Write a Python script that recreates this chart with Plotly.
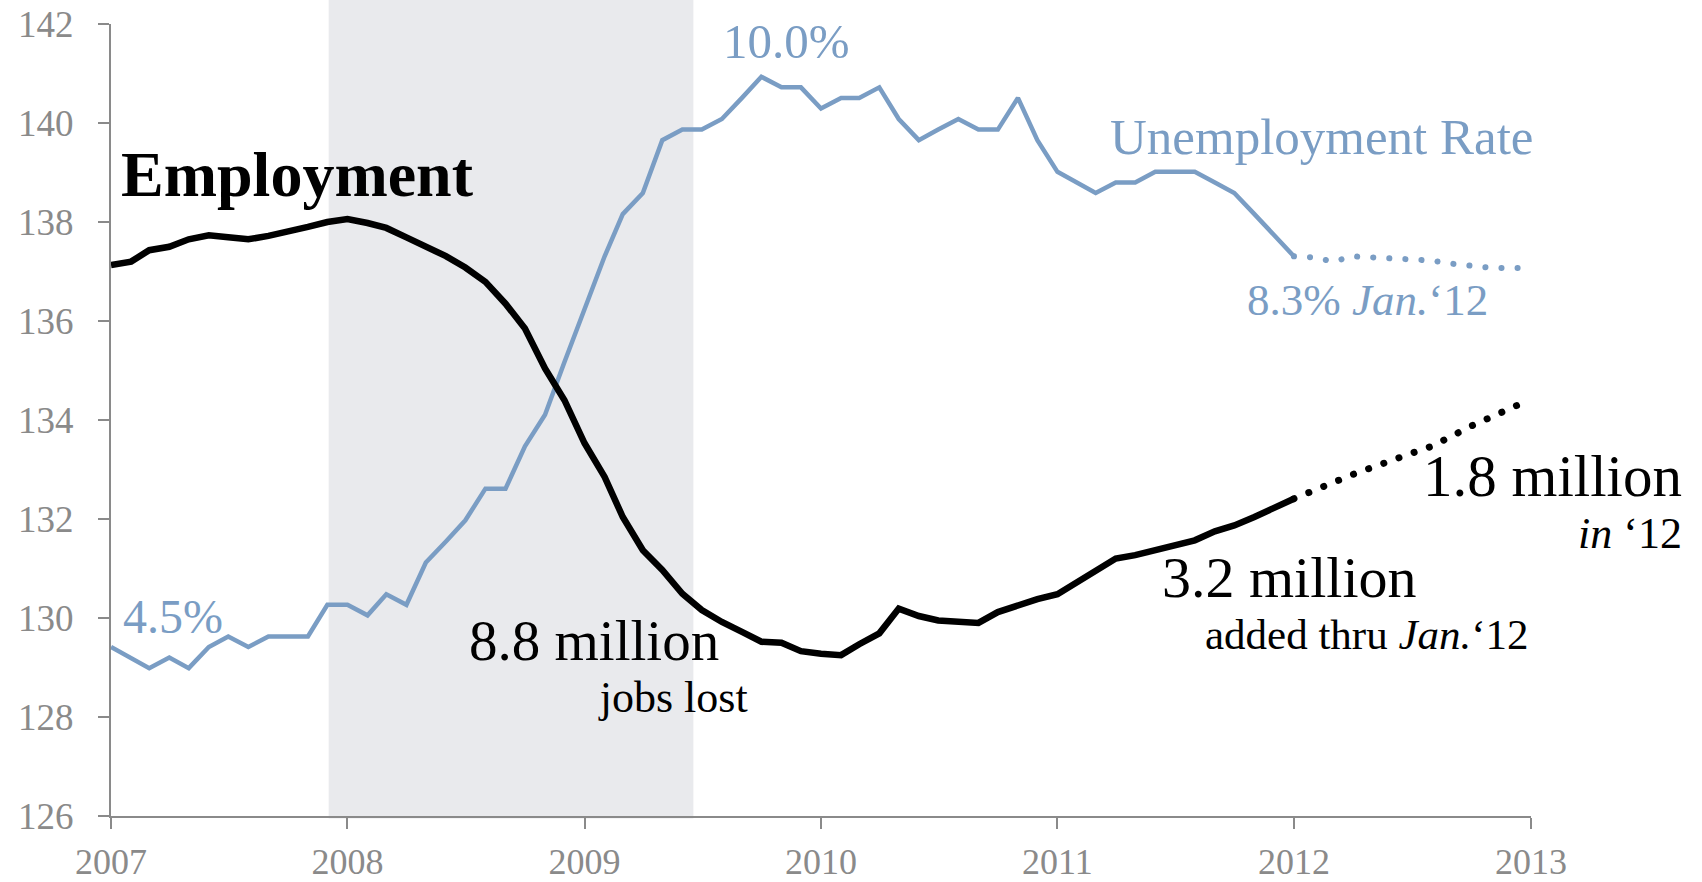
import pandas as pd
import plotly.graph_objects as go

# ---------------- data ----------------
months = pd.date_range("2007-01-01", periods=61, freq="MS")

employment = [
    137.13, 137.20, 137.43, 137.50, 137.65, 137.73, 137.69, 137.65, 137.72, 137.80, 137.90, 138.00,
    138.06, 137.98, 137.88, 137.69, 137.50, 137.31, 137.08, 136.79, 136.35, 135.85, 135.04, 134.40,
    133.53, 132.85, 132.04, 131.37, 130.97, 130.49, 130.16, 129.92, 129.72, 129.52, 129.50, 129.33,
    129.28, 129.25, 129.47, 129.69, 130.19, 130.04, 129.95, 129.91, 129.90, 130.12, 130.26, 130.38,
    130.48, 130.73, 130.97, 131.20, 131.27, 131.37, 131.46, 131.57, 131.75, 131.87, 132.04, 132.21,
    132.41,
]

unemployment = [
    4.6, 4.5, 4.4, 4.5, 4.4, 4.6, 4.7, 4.6, 4.7, 4.7, 4.7, 5.0,
    5.0, 4.9, 5.1, 5.0, 5.4, 5.6, 5.8, 6.1, 6.1, 6.5, 6.8, 7.3,
    7.8, 8.3, 8.7, 8.9, 9.4, 9.5, 9.5, 9.6, 9.8, 10.0, 9.9, 9.9,
    9.7, 9.8, 9.8, 9.9, 9.6, 9.4, 9.5, 9.6, 9.5, 9.5, 9.8, 9.4,
    9.1, 9.0, 8.9, 9.0, 9.0, 9.1, 9.1, 9.1, 9.0, 8.9, 8.7, 8.5,
    8.3,
]

emp_proj_dates = ["2012-01-01", "2012-04-01", "2012-07-01", "2012-08-01", "2012-10-01", "2012-12-13"]
emp_proj = [132.41, 132.90, 133.33, 133.47, 133.88, 134.31]

unemp_proj_dates = ["2012-01-01", "2012-02-01", "2012-03-01", "2012-04-01", "2012-08-01",
                    "2012-09-01", "2012-11-01", "2012-12-13"]
unemp_proj = [8.30, 8.29, 8.25, 8.30, 8.26, 8.23, 8.19, 8.19]

recession = ["2007-12-03", "2009-06-18"]

year_ticks = ["2007-01-01", "2008-01-01", "2009-01-01", "2010-01-01",
              "2011-01-01", "2012-01-01", "2013-01-01"]
year_labels = ["2007", "2008", "2009", "2010", "2011", "2012", "2013"]
emp_ticks = [126, 128, 130, 132, 134, 136, 138, 140, 142]

# ---------------- styling ----------------
BLUE = "#7A9DC4"
GRAY = "#8A8A8A"
SHADE = "#E9EAED"
FONT = "Liberation Serif, Times New Roman, serif"

W, H = 1702, 882
L, R, T, B = 111, 171, 24, 66
PW, PH = W - L - R, H - T - B


def xp(px):
    return (px - L) / PW


def yp(py):
    return (H - B - py) / PH


fig = go.Figure()

# unemployment on hidden axis (y), employment on visible overlay axis (y2, drawn on top)
fig.add_trace(go.Scatter(x=months, y=unemployment, mode="lines", yaxis="y",
                         line=dict(color=BLUE, width=4.5), hoverinfo="skip"))
fig.add_trace(go.Scatter(x=unemp_proj_dates, y=unemp_proj, mode="lines", yaxis="y",
                         line=dict(color=BLUE, width=6, dash="6px,10px"), hoverinfo="skip"))
fig.add_trace(go.Scatter(x=months, y=employment, mode="lines", yaxis="y2",
                         line=dict(color="black", width=6.5), hoverinfo="skip"))
fig.add_trace(go.Scatter(x=emp_proj_dates, y=emp_proj, mode="lines", yaxis="y2",
                         line=dict(color="black", width=7, dash="6px,10px"), hoverinfo="skip"))

fig.add_shape(type="rect", xref="x", yref="paper", x0=recession[0], x1=recession[1],
              y0=-0.003, y1=1.05, fillcolor=SHADE, line=dict(width=0), layer="below")

ann = []


def add(text, x, y, size, color="black", xanchor="center", align="center"):
    ann.append(dict(text=text, x=xp(x), y=yp(y), xref="paper", yref="paper",
                    xanchor=xanchor, yanchor="middle", align=align, showarrow=False,
                    font=dict(family=FONT, size=size, color=color)))


def span(text, size):
    return "<span style='font-size:%dpx'>%s</span>" % (size, text)


add("<b>Employment</b>", 297, 174, 64)
add("Unemployment Rate", 1322, 137, 51, color=BLUE)
add("10.0%", 786, 41, 49, color=BLUE)
add("4.5%", 121, 616, 48, color=BLUE, xanchor="left")
add("8.3% <i>Jan.</i>‘12", 1367, 300, 45, color=BLUE)

# two-line labels (big number + small caption)
add(span("8.8 million&nbsp;&nbsp;", 57) + "<br>" + span("jobs lost", 44),
    750, 665, 40, xanchor="right", align="right")
add(span("3.2 million", 58) + "<br>" + span("&nbsp;&nbsp;&nbsp;&nbsp;added thru <i>Jan.</i>‘12", 43),
    1160, 601, 40, xanchor="left", align="left")
add(span("1.8 million", 59) + "<br>" + span("<i>in</i> ‘12", 44),
    1684, 500, 40, xanchor="right", align="right")

fig.update_layout(
    width=W, height=H,
    margin=dict(l=L, r=R, t=T, b=B, pad=0, autoexpand=False),
    paper_bgcolor="white", plot_bgcolor="rgba(0,0,0,0)",
    showlegend=False,
    annotations=ann,
    xaxis=dict(type="date", range=["2007-01-01", "2013-01-01"], automargin=False,
               tickmode="array", tickvals=year_ticks, ticktext=year_labels,
               ticks="outside", ticklen=11, tickwidth=2, tickcolor=GRAY,
               showline=True, linecolor=GRAY, linewidth=2,
               showgrid=False, zeroline=False,
               tickfont=dict(family=FONT, size=36, color=GRAY),
               ticklabelstandoff=2),
    yaxis=dict(range=[3.0, 10.5], visible=False, showgrid=False, zeroline=False,
               automargin=False),
    yaxis2=dict(range=[126, 142], overlaying="y", side="left", automargin=False,
                tickmode="array", tickvals=emp_ticks,
                ticks="outside", ticklen=11, tickwidth=2, tickcolor=GRAY,
                showline=True, linecolor=GRAY, linewidth=2,
                showgrid=False, zeroline=False,
                tickfont=dict(family=FONT, size=37, color=GRAY),
                ticklabelstandoff=17),
)

post = """
document.body.style.margin = '0';
document.querySelectorAll('.scatterlayer .js-line').forEach(function(p){
  var d = p.style.strokeDasharray || '';
  if (d.indexOf('6px') === 0) {
    p.style.strokeLinecap = 'round';
    p.style.strokeDasharray = '0.1px, 16px';
  }
});
"""

fig.write_html("out.html", post_script=post, config={"displayModeBar": False})
